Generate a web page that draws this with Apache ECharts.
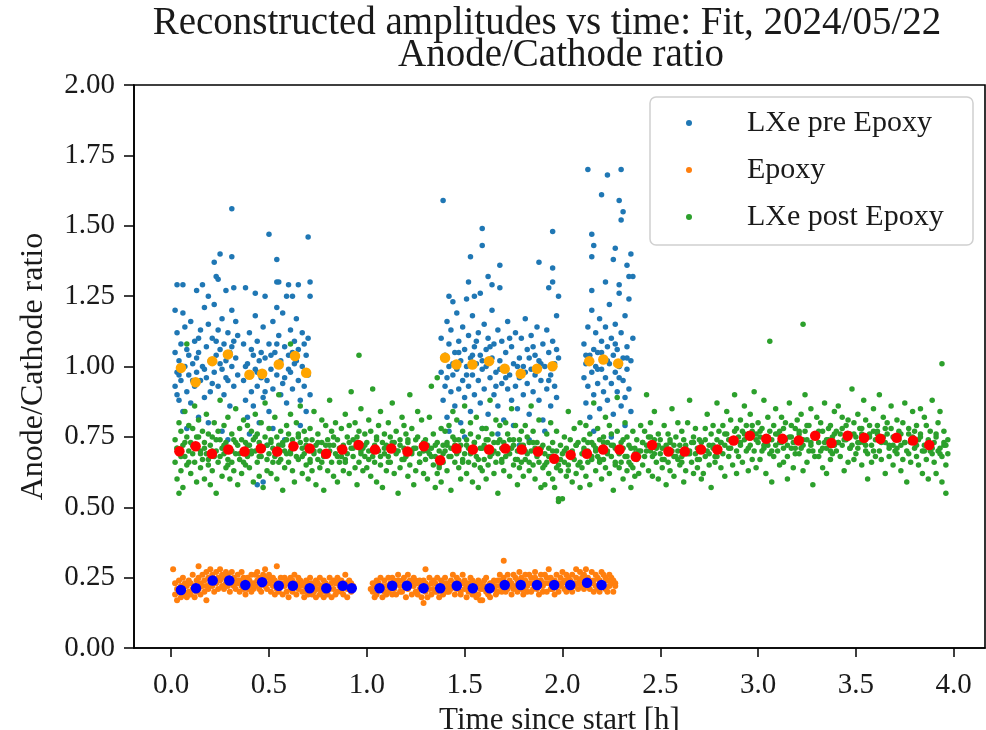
<!DOCTYPE html>
<html>
<head>
<meta charset="utf-8">
<script src="https://cdn.jsdelivr.net/npm/echarts@6/dist/echarts.min.js"></script>
<style>html,body{margin:0;padding:0;background:#fff}#chart{width:986px;height:730px}</style>
</head>
<body>
<div id="chart"></div>
<script>
// ---------------- data ----------------
const titleLine1 = 'Reconstructed amplitudes vs time: Fit, 2024/05/22';
const titleLine2 = 'Anode/Cathode ratio';
const seriesNames = ['LXe pre Epoxy', 'Epoxy', 'LXe post Epoxy'];
const xTickValues = [0, 0.5, 1.0, 1.5, 2.0, 2.5, 3.0, 3.5, 4.0];
const yTickValues = [0, 0.25, 0.5, 0.75, 1.0, 1.25, 1.5, 1.75, 2.0];

// LXe pre Epoxy: [time h, ratio]
const preEpoxy = [
[0.02,1.20],[0.03,1.29],[0.06,1.29],[0.06,1.19],[0.13,1.27],[0.16,1.29],[0.19,1.25],[0.17,1.21],[0.23,1.32],[0.24,1.31],[0.25,1.40],[0.22,1.37],[0.31,1.39],[0.31,1.56],[0.28,1.27],[0.32,1.28],[0.31,1.20],
[0.02,1.05],[0.02,0.93],[0.03,1.12],[0.03,0.98],[0.04,0.88],[0.04,1.02],[0.05,1.08],[0.05,0.95],[0.06,0.84],[0.07,1.00],[0.07,1.14],[0.08,0.91],[0.09,1.04],[0.09,0.97],[0.10,1.16],[0.10,0.87],[0.11,1.01],[0.12,0.93],[0.12,1.09],[0.13,0.98],[0.14,0.82],[0.14,1.05],[0.15,0.95],[0.15,1.13],[0.16,1.00],[0.17,0.89],[0.18,1.07],[0.18,0.96],[0.19,1.15],[0.20,1.02],[0.20,0.91],[0.21,1.10],[0.22,0.98],[0.22,1.22],[0.23,1.04],[0.24,0.93],[0.24,1.13],[0.25,1.06],[0.26,0.99],[0.26,1.17],[0.27,1.08],[0.27,0.90],[0.28,1.02],[0.29,1.12],[0.29,0.95],[0.30,1.05],[0.30,0.86],[0.31,1.00],[0.32,1.09],[0.32,0.93],[0.33,1.03],[0.33,1.16],[0.34,0.97],[0.08,0.78],[0.19,0.80],[0.26,0.77],[0.11,0.72],[0.29,0.74],
[0.04,0.97],[0.08,1.06],[0.11,0.95],[0.14,1.10],[0.17,0.99],[0.21,0.94],[0.25,1.01],[0.28,0.96],[0.31,1.07],[0.34,1.11],[0.03,0.90],[0.13,1.03],[0.23,1.09],
[0.43,1.26],[0.48,1.25],[0.54,1.30],[0.55,1.30],[0.60,1.29],[0.59,1.25],[0.62,1.25],[0.65,1.29],[0.71,1.30],[0.71,1.25],[0.50,1.47],[0.70,1.46],[0.54,1.38],[0.38,1.28],[0.43,1.18],[0.54,1.21],[0.44,0.58],[0.47,0.59],
[0.37,0.95],[0.37,1.08],[0.38,0.88],[0.39,1.01],[0.39,0.82],[0.40,0.97],[0.40,1.12],[0.41,0.91],[0.42,1.04],[0.42,0.86],[0.43,0.99],[0.44,1.09],[0.44,0.93],[0.45,0.80],[0.45,1.02],[0.46,0.96],[0.47,1.14],[0.47,0.89],[0.48,1.03],[0.49,0.95],[0.50,1.08],[0.50,0.84],[0.51,0.99],[0.52,1.16],[0.52,0.92],[0.53,1.05],[0.54,0.97],[0.55,1.11],[0.56,0.90],[0.56,1.02],[0.57,1.19],[0.58,0.96],[0.58,1.07],[0.59,0.87],[0.60,1.04],[0.61,1.13],[0.61,0.98],[0.62,0.92],[0.63,1.09],[0.63,1.01],[0.64,1.17],[0.65,0.95],[0.65,1.06],[0.66,0.88],[0.67,1.12],[0.67,1.00],[0.68,0.93],[0.69,1.04],[0.69,0.84],[0.70,0.97],[0.70,1.10],[0.71,0.90],[0.40,0.76],[0.52,0.78],[0.66,0.79],[0.58,0.74],[0.49,0.72],
[0.38,1.00],[0.41,1.06],[0.44,0.98],[0.48,0.91],[0.51,1.04],[0.54,1.08],[0.57,0.94],[0.60,0.99],[0.64,1.02],[0.68,1.08],[0.46,1.05],[0.62,1.05],
[1.39,1.59],[1.59,1.49],[1.59,1.43],[1.95,1.48],[1.53,1.39],[1.88,1.37],[1.68,1.36],[1.95,1.35],[1.52,1.30],[1.62,1.32],[1.64,1.29],[1.68,1.28],[1.58,1.26],[1.55,1.25],[1.95,1.30],[1.93,1.28],[1.98,1.25],[1.42,1.25],[1.44,1.23],[1.51,1.24],
[1.38,0.98],[1.38,1.10],[1.39,0.88],[1.40,1.04],[1.40,0.93],[1.41,1.16],[1.41,0.82],[1.42,1.00],[1.42,1.08],[1.43,0.91],[1.43,1.13],[1.44,0.97],[1.45,1.05],[1.45,0.86],[1.46,1.19],[1.46,0.99],[1.47,0.92],[1.47,1.09],[1.48,1.02],[1.48,0.80],[1.49,0.95],[1.49,1.14],[1.50,1.06],[1.50,0.89],[1.51,1.00],[1.52,0.93],[1.52,1.11],[1.53,1.03],[1.53,0.84],[1.54,0.97],[1.54,1.18],[1.55,1.07],[1.55,0.90],[1.56,1.01],[1.57,0.95],[1.57,1.12],[1.58,1.04],[1.58,0.87],[1.59,0.99],[1.60,1.15],[1.60,0.92],[1.61,1.06],[1.61,1.00],[1.62,0.83],[1.62,1.10],[1.63,0.96],[1.64,1.03],[1.64,1.20],[1.65,0.90],[1.65,1.08],[1.66,0.98],[1.67,1.13],[1.67,0.86],[1.68,1.02],[1.69,0.94],[1.69,1.09],[1.70,0.99],[1.70,0.81],[1.71,1.05],[1.72,0.92],[1.72,1.16],[1.73,0.97],[1.74,1.07],[1.74,0.88],[1.75,1.01],[1.76,0.93],[1.76,1.12],[1.77,0.85],[1.78,1.03],[1.78,0.96],[1.79,1.10],[1.80,0.90],[1.80,1.00],[1.81,1.17],[1.82,0.94],[1.82,1.06],[1.83,0.83],[1.84,0.99],[1.84,1.11],[1.85,0.91],[1.86,1.04],[1.86,0.97],[1.87,1.14],[1.88,0.88],[1.88,1.02],[1.89,0.95],[1.90,1.08],[1.90,0.81],[1.91,1.00],[1.92,0.92],[1.92,1.13],[1.93,1.05],[1.94,0.97],[1.94,0.86],[1.95,1.09],[1.96,1.01],[1.96,0.93],[1.97,1.18],[1.97,0.89],[1.98,1.03],[1.42,0.77],[1.50,0.75],[1.59,0.78],[1.67,0.76],[1.75,0.79],[1.83,0.74],[1.91,0.77],[1.78,0.72],[1.55,0.71],
[1.39,1.03],[1.44,1.01],[1.47,1.05],[1.51,0.97],[1.56,1.09],[1.59,1.02],[1.63,1.07],[1.66,0.93],[1.71,0.96],[1.73,1.10],[1.77,1.00],[1.81,0.98],[1.85,1.07],[1.89,1.01],[1.93,0.95],[1.97,1.06],[1.41,0.96],[1.54,1.04],[1.68,0.99],[1.83,1.03],
[2.13,1.70],[2.23,1.68],[2.30,1.70],[2.20,1.61],[2.29,1.59],[2.31,1.55],[2.30,1.52],[2.15,1.47],[2.16,1.43],[2.15,1.39],[2.27,1.42],[2.35,1.40],[2.15,1.27],[2.22,1.30],[2.29,1.29],[2.34,1.32],[2.36,1.32],[2.33,1.36],[2.26,1.38],[2.29,1.26],
[2.11,0.96],[2.11,1.08],[2.12,0.87],[2.12,1.01],[2.13,1.14],[2.13,0.93],[2.14,1.04],[2.14,0.82],[2.15,0.98],[2.15,1.20],[2.16,1.06],[2.16,0.90],[2.17,1.00],[2.17,1.12],[2.18,0.94],[2.18,1.05],[2.19,0.85],[2.19,1.17],[2.20,0.99],[2.20,1.09],[2.21,0.91],[2.21,1.03],[2.22,1.14],[2.22,0.96],[2.23,1.07],[2.23,0.88],[2.24,1.01],[2.24,1.22],[2.25,0.94],[2.25,1.10],[2.26,1.04],[2.26,0.83],[2.27,0.98],[2.27,1.15],[2.28,1.06],[2.28,0.91],[2.29,1.00],[2.30,1.12],[2.30,0.86],[2.31,1.03],[2.31,0.95],[2.32,1.18],[2.32,0.89],[2.33,1.07],[2.33,0.99],[2.34,0.92],[2.34,1.24],[2.35,1.02],[2.35,0.84],[2.36,1.10],[2.16,0.77],[2.25,0.75],[2.32,0.79],
[2.12,1.04],[2.18,0.99],[2.23,1.02],[2.27,1.08],[2.33,1.03],[2.20,1.05],[2.29,0.96]
];

// Epoxy: [time h, ratio]
const epoxy = [
[0.02,0.19],[0.02,0.23],[0.03,0.21],[0.03,0.17],[0.04,0.24],[0.04,0.20],[0.05,0.18],[0.05,0.22],[0.06,0.21],[0.06,0.25],[0.07,0.19],[0.07,0.23],[0.08,0.22],[0.08,0.18],[0.09,0.20],[0.09,0.24],
[0.10,0.23],[0.10,0.19],[0.11,0.21],[0.11,0.26],[0.12,0.18],[0.12,0.22],[0.13,0.24],[0.13,0.20],[0.14,0.21],[0.14,0.25],[0.15,0.19],[0.15,0.23],[0.16,0.22],[0.16,0.26],[0.17,0.24],[0.17,0.20],[0.18,0.22],[0.18,0.27],[0.19,0.25],[0.19,0.21],
[0.20,0.23],[0.20,0.28],[0.21,0.26],[0.21,0.22],[0.22,0.24],[0.22,0.20],[0.23,0.27],[0.23,0.23],[0.24,0.21],[0.24,0.25],[0.25,0.24],[0.25,0.28],[0.26,0.22],[0.26,0.26],[0.27,0.25],[0.27,0.21],[0.28,0.23],[0.28,0.27],[0.29,0.26],[0.29,0.22],
[0.30,0.24],[0.30,0.20],[0.31,0.27],[0.31,0.23],[0.32,0.22],[0.32,0.25],[0.33,0.24],[0.33,0.21],[0.34,0.23],[0.34,0.26],[0.35,0.20],[0.35,0.24],[0.36,0.22],[0.36,0.27],[0.37,0.25],[0.37,0.21],[0.38,0.23],[0.38,0.19],[0.39,0.21],[0.39,0.25],
[0.40,0.24],[0.40,0.22],[0.41,0.20],[0.41,0.26],[0.42,0.23],[0.42,0.21],[0.43,0.26],[0.43,0.22],[0.44,0.24],[0.44,0.27],[0.45,0.21],[0.45,0.25],[0.46,0.23],[0.46,0.20],[0.47,0.26],[0.47,0.24],[0.48,0.22],[0.48,0.28],[0.49,0.25],[0.49,0.21],
[0.50,0.23],[0.50,0.26],[0.51,0.20],[0.51,0.24],[0.52,0.22],[0.52,0.25],[0.53,0.24],[0.53,0.19],[0.54,0.21],[0.54,0.29],[0.55,0.23],[0.55,0.20],[0.56,0.25],[0.56,0.22],[0.57,0.19],[0.57,0.23],[0.58,0.22],[0.58,0.25],[0.59,0.20],[0.59,0.24],
[0.60,0.23],[0.60,0.18],[0.61,0.21],[0.61,0.25],[0.62,0.24],[0.62,0.20],[0.63,0.22],[0.63,0.26],[0.64,0.19],[0.64,0.23],[0.65,0.25],[0.65,0.21],[0.66,0.22],[0.66,0.24],[0.67,0.20],[0.67,0.23],[0.68,0.22],[0.68,0.18],[0.69,0.24],[0.69,0.20],
[0.70,0.19],[0.70,0.23],[0.71,0.21],[0.71,0.25],[0.72,0.23],[0.72,0.19],[0.73,0.20],[0.73,0.22],[0.74,0.24],[0.74,0.18],[0.75,0.21],[0.75,0.23],[0.76,0.19],[0.76,0.25],[0.77,0.22],[0.77,0.20],[0.78,0.24],[0.78,0.18],[0.79,0.20],[0.79,0.23],
[0.80,0.22],[0.80,0.19],[0.81,0.25],[0.81,0.21],[0.82,0.18],[0.82,0.23],[0.83,0.21],[0.83,0.24],[0.84,0.23],[0.84,0.19],[0.85,0.20],[0.85,0.25],[0.86,0.22],[0.86,0.24],[0.87,0.24],[0.87,0.20],[0.88,0.19],[0.88,0.22],[0.89,0.23],[0.89,0.26],
[0.90,0.21],[0.90,0.18],[0.91,0.24],[0.91,0.22],[0.92,0.20],[0.92,0.23],[0.93,0.22],[0.93,0.21],
[0.01,0.28],[0.18,0.17],[0.14,0.29],
[1.03,0.20],[1.03,0.23],[1.04,0.22],[1.04,0.18],[1.05,0.19],[1.05,0.24],[1.06,0.23],[1.06,0.21],[1.07,0.21],[1.07,0.25],[1.08,0.18],[1.08,0.22],[1.09,0.24],[1.09,0.20],
[1.10,0.22],[1.10,0.19],[1.11,0.20],[1.11,0.25],[1.12,0.23],[1.12,0.21],[1.13,0.25],[1.13,0.19],[1.14,0.21],[1.14,0.24],[1.15,0.19],[1.15,0.23],[1.16,0.24],[1.16,0.26],[1.17,0.22],[1.17,0.20],[1.18,0.20],[1.18,0.24],[1.19,0.25],[1.19,0.22],
[1.20,0.23],[1.20,0.18],[1.21,0.21],[1.21,0.26],[1.22,0.24],[1.22,0.22],[1.23,0.19],[1.23,0.23],[1.24,0.22],[1.24,0.25],[1.25,0.20],[1.25,0.24],[1.26,0.23],[1.26,0.19],[1.27,0.21],[1.27,0.24],[1.28,0.18],[1.28,0.22],[1.29,0.24],[1.29,0.16],
[1.30,0.20],[1.30,0.23],[1.31,0.22],[1.31,0.18],[1.32,0.25],[1.32,0.21],[1.33,0.19],[1.33,0.23],[1.34,0.21],[1.34,0.24],[1.35,0.23],[1.35,0.20],[1.36,0.20],[1.36,0.25],[1.37,0.22],[1.37,0.18],[1.38,0.24],[1.38,0.21],[1.39,0.19],[1.39,0.23],
[1.40,0.21],[1.40,0.25],[1.41,0.23],[1.41,0.20],[1.42,0.20],[1.42,0.22],[1.43,0.24],[1.43,0.21],[1.44,0.22],[1.44,0.26],[1.45,0.19],[1.45,0.23],[1.46,0.25],[1.46,0.21],[1.47,0.22],[1.47,0.24],[1.48,0.20],[1.48,0.19],[1.49,0.23],[1.49,0.26],
[1.50,0.21],[1.50,0.24],[1.51,0.18],[1.51,0.22],[1.52,0.23],[1.52,0.20],[1.53,0.21],[1.53,0.25],[1.54,0.24],[1.54,0.19],[1.55,0.20],[1.55,0.23],[1.56,0.22],[1.56,0.18],[1.57,0.19],[1.57,0.24],[1.58,0.23],[1.58,0.21],[1.59,0.21],[1.59,0.17],
[1.60,0.24],[1.60,0.22],[1.61,0.20],[1.61,0.25],[1.62,0.22],[1.62,0.19],[1.63,0.18],[1.63,0.23],[1.64,0.23],[1.64,0.21],[1.65,0.21],[1.65,0.24],[1.66,0.19],[1.66,0.22],[1.67,0.24],[1.67,0.20],[1.68,0.22],[1.68,0.26],[1.69,0.20],[1.69,0.24],
[1.70,0.25],[1.70,0.31],[1.71,0.23],[1.71,0.20],[1.72,0.21],[1.72,0.26],[1.73,0.24],[1.73,0.22],[1.74,0.19],[1.74,0.23],[1.75,0.26],[1.75,0.21],[1.76,0.22],[1.76,0.25],[1.77,0.20],[1.77,0.24],[1.78,0.23],[1.78,0.27],[1.79,0.25],[1.79,0.21],
[1.80,0.21],[1.80,0.19],[1.81,0.24],[1.81,0.26],[1.82,0.22],[1.82,0.20],[1.83,0.26],[1.83,0.23],[1.84,0.20],[1.84,0.25],[1.85,0.23],[1.85,0.21],[1.86,0.25],[1.86,0.27],[1.87,0.21],[1.87,0.24],[1.88,0.19],[1.88,0.22],[1.89,0.24],[1.89,0.26],
[1.90,0.22],[1.90,0.20],[1.91,0.26],[1.91,0.23],[1.92,0.20],[1.92,0.25],[1.93,0.23],[1.93,0.28],[1.94,0.25],[1.94,0.21],[1.95,0.21],[1.95,0.24],[1.96,0.24],[1.96,0.19],[1.97,0.22],[1.97,0.26],[1.98,0.20],[1.98,0.23],[1.99,0.25],[1.99,0.22],
[2.00,0.23],[2.00,0.27],[2.01,0.21],[2.01,0.24],[2.02,0.26],[2.02,0.20],[2.03,0.22],[2.03,0.25],[2.04,0.24],[2.04,0.21],[2.05,0.20],[2.05,0.26],[2.06,0.23],[2.06,0.22],[2.07,0.25],[2.07,0.28],[2.08,0.21],[2.08,0.23],[2.09,0.24],[2.09,0.27],
[2.10,0.22],[2.10,0.25],[2.11,0.26],[2.11,0.21],[2.12,0.23],[2.12,0.28],[2.13,0.25],[2.13,0.22],[2.14,0.21],[2.14,0.24],[2.15,0.27],[2.15,0.23],[2.16,0.24],[2.16,0.20],[2.17,0.22],[2.17,0.26],[2.18,0.25],[2.18,0.21],[2.19,0.20],[2.19,0.24],
[2.20,0.23],[2.20,0.27],[2.21,0.26],[2.21,0.22],[2.22,0.21],[2.22,0.25],[2.23,0.24],[2.23,0.20],[2.24,0.22],[2.24,0.26],[2.25,0.25],[2.25,0.23],[2.26,0.20],[2.26,0.24],[2.27,0.23],[2.27,0.22],
[1.58,0.17],[1.02,0.21],[1.30,0.28]
];

// LXe post Epoxy: [time h, ratio]
const postEpoxy = [
[0.02,0.66],[0.02,0.74],[0.03,0.60],[0.03,0.71],[0.04,0.80],[0.04,0.69],[0.05,0.63],[0.05,0.77],[0.06,0.72],[0.06,0.57],[0.07,0.68],[0.07,0.84],[0.08,0.75],[0.08,0.65],[0.09,0.70],[0.09,0.79],
[0.10,0.62],[0.10,0.73],[0.11,0.78],[0.11,0.69],[0.12,0.66],[0.12,0.86],[0.13,0.71],[0.13,0.59],[0.14,0.75],[0.14,0.81],[0.15,0.64],[0.15,0.70],[0.16,0.77],[0.16,0.67],[0.17,0.73],[0.17,0.60],[0.18,0.69],[0.18,0.83],[0.19,0.76],[0.19,0.65],
[0.20,0.72],[0.20,0.58],[0.21,0.63],[0.21,0.75],[0.22,0.80],[0.22,0.68],[0.23,0.70],[0.23,0.55],[0.24,0.66],[0.24,0.77],[0.25,0.74],[0.25,0.88],[0.26,0.61],[0.26,0.71],[0.27,0.69],[0.27,0.79],[0.28,0.73],[0.28,0.64],[0.29,0.67],[0.29,0.82],
[0.30,0.71],[0.30,0.60],[0.31,0.76],[0.31,0.66],[0.32,0.63],[0.32,0.74],[0.33,0.85],[0.33,0.69],[0.34,0.72],[0.34,0.58],[0.35,0.67],[0.35,0.78],[0.36,0.74],[0.36,0.62],[0.37,0.70],[0.37,0.81],[0.38,0.65],[0.38,0.73],[0.39,0.79],[0.39,0.68],
[0.40,0.64],[0.40,0.72],[0.41,0.77],[0.41,0.69],[0.42,0.59],[0.42,0.74],[0.43,0.70],[0.43,0.83],[0.44,0.66],[0.44,0.76],[0.45,0.73],[0.45,0.61],[0.46,0.80],[0.46,0.68],[0.47,0.71],[0.47,0.57],[0.48,0.75],[0.48,0.87],[0.49,0.63],[0.49,0.72],
[0.50,0.69],[0.50,0.78],[0.51,0.74],[0.51,0.62],[0.52,0.66],[0.52,0.71],[0.53,0.82],[0.53,0.68],[0.54,0.60],[0.54,0.75],[0.55,0.72],[0.55,0.90],[0.56,0.67],[0.56,0.77],[0.57,0.73],[0.57,0.56],[0.58,0.64],[0.58,0.70],[0.59,0.79],[0.59,0.69],
[0.60,0.76],[0.60,0.66],[0.61,0.70],[0.61,0.83],[0.62,0.63],[0.62,0.74],[0.63,0.72],[0.63,0.59],[0.64,0.80],[0.64,0.68],[0.65,0.67],[0.65,0.75],[0.66,0.73],[0.66,0.86],[0.67,0.62],[0.67,0.71],[0.68,0.77],[0.68,0.69],[0.69,0.65],[0.69,0.74],
[0.70,0.71],[0.70,0.60],[0.71,0.66],[0.71,0.78],[0.72,0.74],[0.72,0.63],[0.73,0.69],[0.73,0.84],[0.74,0.58],[0.74,0.72],[0.75,0.76],[0.75,0.67],[0.76,0.64],[0.76,0.70],[0.77,0.81],[0.77,0.73],[0.78,0.68],[0.78,0.56],[0.79,0.72],[0.79,0.79],
[0.80,0.63],[0.80,0.74],[0.81,0.70],[0.81,0.88],[0.82,0.77],[0.82,0.66],[0.83,0.61],[0.83,0.72],[0.84,0.69],[0.84,0.80],[0.85,0.74],[0.85,0.59],[0.86,0.66],[0.86,0.71],[0.87,0.78],[0.87,0.68],[0.88,0.72],[0.88,0.63],[0.89,0.67],[0.89,0.83],
[0.90,0.75],[0.90,0.69],[0.91,0.62],[0.91,0.79],[0.92,0.71],[0.92,0.91],[0.93,0.68],[0.93,0.74],[0.94,0.80],[0.94,0.64],[0.95,0.73],[0.95,0.58],[0.96,0.66],[0.96,0.77],[0.97,0.85],[0.97,0.70],[0.98,0.71],[0.98,0.63],[0.99,0.76],[0.99,0.68],
[1.00,0.64],[1.00,0.73],[1.01,0.70],[1.01,0.81],[1.02,0.77],[1.02,0.61],[1.03,0.68],[1.03,0.92],[1.04,0.72],[1.04,0.66],[1.05,0.59],[1.05,0.75],[1.06,0.79],[1.06,0.70],[1.07,0.65],[1.07,0.84],[1.08,0.73],[1.08,0.57],[1.09,0.69],[1.09,0.76],
[1.10,0.72],[1.10,0.63],[1.11,0.80],[1.11,0.68],[1.12,0.66],[1.12,0.75],[1.13,0.71],[1.13,0.87],[1.14,0.62],[1.14,0.73],[1.15,0.77],[1.15,0.69],[1.16,0.70],[1.16,0.55],[1.17,0.74],[1.17,0.64],[1.18,0.67],[1.18,0.82],[1.19,0.79],[1.19,0.71],
[1.20,0.68],[1.20,0.76],[1.21,0.73],[1.21,0.61],[1.22,0.65],[1.22,0.90],[1.23,0.78],[1.23,0.70],[1.24,0.71],[1.24,0.58],[1.25,0.63],[1.25,0.74],[1.26,0.75],[1.26,0.84],[1.27,0.69],[1.27,0.66],[1.28,0.81],[1.28,0.72],[1.29,0.70],[1.29,0.62],
[1.30,0.74],[1.30,0.67],[1.31,0.60],[1.31,0.72],[1.32,0.82],[1.32,0.69],[1.33,0.71],[1.33,0.93],[1.34,0.65],[1.34,0.76],[1.35,0.68],[1.35,0.57],[1.36,0.73],[1.36,0.62],[1.37,0.64],[1.37,0.70],[1.38,0.78],[1.38,0.59],[1.39,0.66],[1.39,0.72],
[1.40,0.70],[1.40,0.77],[1.41,0.63],[1.41,0.73],[1.42,0.79],[1.42,0.68],[1.43,0.71],[1.43,0.56],[1.44,0.75],[1.44,0.84],[1.45,0.66],[1.45,0.72],[1.46,0.81],[1.46,0.69],[1.47,0.64],[1.47,0.74],[1.48,0.72],[1.48,0.60],[1.49,0.77],[1.49,0.67],
[1.50,0.69],[1.50,0.86],[1.51,0.74],[1.51,0.62],[1.52,0.66],[1.52,0.71],[1.53,0.80],[1.53,0.76],[1.54,0.59],[1.54,0.70],[1.55,0.73],[1.55,0.65],[1.56,0.68],[1.56,0.82],[1.57,0.75],[1.57,0.57],[1.58,0.71],[1.58,0.64],[1.59,0.63],[1.59,0.78],
[1.60,0.72],[1.60,0.67],[1.61,0.78],[1.61,0.60],[1.62,0.65],[1.62,0.74],[1.63,0.70],[1.63,0.88],[1.64,0.76],[1.64,0.69],[1.65,0.62],[1.65,0.73],[1.66,0.81],[1.66,0.66],[1.67,0.69],[1.67,0.55],[1.68,0.74],[1.68,0.79],[1.69,0.67],[1.69,0.71],
[1.70,0.73],[1.70,0.63],[1.71,0.68],[1.71,0.80],[1.72,0.76],[1.72,0.70],[1.73,0.61],[1.73,0.74],[1.74,0.71],[1.74,0.85],[1.75,0.65],[1.75,0.72],[1.76,0.79],[1.76,0.67],[1.77,0.70],[1.77,0.58],[1.78,0.74],[1.78,0.64],[1.79,0.66],[1.79,0.77],
[1.80,0.72],[1.80,0.61],[1.81,0.67],[1.81,0.79],[1.82,0.75],[1.82,0.69],[1.83,0.63],[1.83,0.73],[1.84,0.70],[1.84,0.86],[1.85,0.77],[1.85,0.65],[1.86,0.60],[1.86,0.71],[1.87,0.73],[1.87,0.68],[1.88,0.66],[1.88,0.81],[1.89,0.71],[1.89,0.57],
[1.90,0.64],[1.90,0.72],[1.91,0.69],[1.91,0.58],[1.92,0.76],[1.92,0.66],[1.93,0.62],[1.93,0.71],[1.94,0.68],[1.94,0.80],[1.95,0.73],[1.95,0.60],[1.96,0.57],[1.96,0.67],[1.97,0.70],[1.97,0.77],[1.98,0.65],[1.98,0.53],[1.99,0.72],[1.99,0.63],
[2.00,0.53],[2.00,0.69],[2.01,0.66],[2.01,0.75],[2.02,0.71],[2.02,0.61],[2.03,0.63],[2.03,0.84],[2.04,0.74],[2.04,0.68],[2.05,0.59],[2.05,0.70],[2.06,0.67],[2.06,0.78],[2.07,0.72],[2.07,0.62],[2.08,0.65],[2.08,0.73],[2.09,0.80],[2.09,0.57],
[2.10,0.69],[2.10,0.64],[2.11,0.74],[2.11,0.71],[2.12,0.61],[2.12,0.79],[2.13,0.70],[2.13,0.66],[2.14,0.76],[2.14,0.58],[2.15,0.67],[2.15,0.73],[2.16,0.72],[2.16,0.87],[2.17,0.63],[2.17,0.70],[2.18,0.78],[2.18,0.68],[2.19,0.66],[2.19,0.74],
[2.20,0.71],[2.20,0.60],[2.21,0.75],[2.21,0.67],[2.22,0.64],[2.22,0.82],[2.23,0.70],[2.23,0.73],[2.24,0.79],[2.24,0.62],[2.25,0.68],[2.25,0.76],[2.26,0.72],[2.26,0.56],[2.27,0.65],[2.27,0.71],[2.28,0.77],[2.28,0.89],[2.29,0.69],[2.29,0.64],
[2.30,0.73],[2.30,0.66],[2.31,0.60],[2.31,0.71],[2.32,0.68],[2.32,0.80],[2.33,0.75],[2.33,0.63],[2.34,0.66],[2.34,0.72],[2.35,0.71],[2.35,0.57],[2.36,0.64],[2.36,0.77],[2.37,0.69],[2.37,0.61],[2.38,0.74],[2.38,0.67],[2.39,0.62],[2.39,0.70],
[2.40,0.70],[2.40,0.79],[2.41,0.65],[2.41,0.73],[2.42,0.77],[2.42,0.68],[2.43,0.72],[2.43,0.90],[2.44,0.63],[2.44,0.75],[2.45,0.80],[2.45,0.70],[2.46,0.68],[2.46,0.61],[2.47,0.74],[2.47,0.84],[2.48,0.71],[2.48,0.66],[2.49,0.76],[2.49,0.60],
[2.50,0.69],[2.50,0.74],[2.51,0.64],[2.51,0.71],[2.52,0.79],[2.52,0.67],[2.53,0.72],[2.53,0.58],[2.54,0.66],[2.54,0.76],[2.55,0.73],[2.55,0.63],[2.56,0.70],[2.56,0.85],[2.57,0.61],[2.57,0.72],[2.58,0.75],[2.58,0.68],[2.59,0.67],[2.59,0.80],
[2.60,0.72],[2.60,0.65],[2.61,0.68],[2.61,0.77],[2.62,0.74],[2.62,0.59],[2.63,0.63],[2.63,0.71],[2.64,0.80],[2.64,0.69],[2.65,0.70],[2.65,0.88],[2.66,0.66],[2.66,0.73],[2.67,0.75],[2.67,0.62],[2.68,0.69],[2.68,0.78],[2.69,0.71],[2.69,0.64],
[2.70,0.67],[2.70,0.74],[2.71,0.73],[2.71,0.60],[2.72,0.62],[2.72,0.70],[2.73,0.78],[2.73,0.68],[2.74,0.70],[2.74,0.83],[2.75,0.65],[2.75,0.72],[2.76,0.76],[2.76,0.57],[2.77,0.71],[2.77,0.79],[2.78,0.68],[2.78,0.66],[2.79,0.74],[2.79,0.87],
[2.80,0.70],[2.80,0.77],[2.81,0.64],[2.81,0.73],[2.82,0.79],[2.82,0.69],[2.83,0.72],[2.83,0.61],[2.84,0.76],[2.84,0.84],[2.85,0.68],[2.85,0.74],[2.86,0.81],[2.86,0.71],[2.87,0.73],[2.87,0.65],[2.88,0.77],[2.88,0.90],[2.89,0.70],[2.89,0.62],
[2.90,0.75],[2.90,0.68],[2.91,0.81],[2.91,0.72],[2.92,0.66],[2.92,0.77],[2.93,0.74],[2.93,0.86],[2.94,0.79],[2.94,0.70],[2.95,0.63],[2.95,0.76],[2.96,0.72],[2.96,0.83],[2.97,0.77],[2.97,0.67],[2.98,0.70],[2.98,0.91],[2.99,0.76],[2.99,0.64],
[3.00,0.73],[3.00,0.80],[3.01,0.67],[3.01,0.75],[3.02,0.78],[3.02,0.70],[3.03,0.71],[3.03,0.88],[3.04,0.75],[3.04,0.62],[3.05,0.82],[3.05,0.72],[3.06,0.69],[3.06,0.77],[3.07,0.74],[3.07,0.59],[3.08,0.79],[3.08,0.68],[3.09,0.72],[3.09,0.85],
[3.10,0.70],[3.10,0.76],[3.11,0.77],[3.11,0.65],[3.12,0.73],[3.12,0.82],[3.13,0.66],[3.13,0.71],[3.14,0.80],[3.14,0.74],[3.15,0.68],[3.15,0.60],[3.16,0.75],[3.16,0.87],[3.17,0.71],[3.17,0.79],[3.18,0.64],[3.18,0.73],[3.19,0.78],[3.19,0.69],
[3.20,0.74],[3.20,0.81],[3.21,0.69],[3.21,0.76],[3.22,0.83],[3.22,0.71],[3.23,0.72],[3.23,0.63],[3.24,0.77],[3.24,0.90],[3.25,0.66],[3.25,0.74],[3.26,0.79],[3.26,0.70],[3.27,0.73],[3.27,0.85],[3.28,0.70],[3.28,0.58],[3.29,0.76],[3.29,0.68],
[3.30,0.75],[3.30,0.82],[3.31,0.68],[3.31,0.73],[3.32,0.80],[3.32,0.70],[3.33,0.64],[3.33,0.77],[3.34,0.73],[3.34,0.87],[3.35,0.71],[3.35,0.62],[3.36,0.78],[3.36,0.74],[3.37,0.67],[3.37,0.79],[3.38,0.75],[3.38,0.69],[3.39,0.72],[3.39,0.84],
[3.40,0.77],[3.40,0.70],[3.41,0.73],[3.41,0.86],[3.42,0.68],[3.42,0.76],[3.43,0.82],[3.43,0.72],[3.44,0.74],[3.44,0.63],[3.45,0.79],[3.45,0.75],[3.46,0.66],[3.46,0.81],[3.47,0.76],[3.47,0.71],[3.48,0.72],[3.48,0.92],[3.49,0.80],[3.49,0.67],
[3.50,0.75],[3.50,0.69],[3.51,0.71],[3.51,0.83],[3.52,0.78],[3.52,0.73],[3.53,0.65],[3.53,0.76],[3.54,0.73],[3.54,0.88],[3.55,0.81],[3.55,0.70],[3.56,0.69],[3.56,0.60],[3.57,0.76],[3.57,0.79],[3.58,0.72],[3.58,0.66],[3.59,0.77],[3.59,0.85],
[3.60,0.74],[3.60,0.68],[3.61,0.79],[3.61,0.76],[3.62,0.70],[3.62,0.90],[3.63,0.67],[3.63,0.73],[3.64,0.82],[3.64,0.75],[3.65,0.73],[3.65,0.62],[3.66,0.76],[3.66,0.80],[3.67,0.68],[3.67,0.71],[3.68,0.78],[3.68,0.86],[3.69,0.72],[3.69,0.65],
[3.70,0.75],[3.70,0.70],[3.71,0.69],[3.71,0.81],[3.72,0.77],[3.72,0.74],[3.73,0.63],[3.73,0.72],[3.74,0.80],[3.74,0.67],[3.75,0.73],[3.75,0.87],[3.76,0.70],[3.76,0.59],[3.77,0.78],[3.77,0.76],[3.78,0.66],[3.78,0.73],[3.79,0.74],[3.79,0.84],
[3.80,0.71],[3.80,0.77],[3.81,0.79],[3.81,0.68],[3.82,0.65],[3.82,0.74],[3.83,0.75],[3.83,0.85],[3.84,0.70],[3.84,0.62],[3.85,0.82],[3.85,0.72],[3.86,0.67],[3.86,0.79],[3.87,0.74],[3.87,0.60],[3.88,0.77],[3.88,0.70],[3.89,0.69],[3.89,0.88],
[3.90,0.73],[3.90,0.66],[3.91,0.62],[3.91,0.76],[3.92,0.80],[3.92,0.70],[3.93,0.71],[3.93,0.84],[3.94,0.68],[3.94,0.59],[3.95,0.77],[3.95,0.73],[3.96,0.65],[3.96,0.72],[3.97,0.74],[3.97,0.69],
[0.08,1.08],[0.61,1.08],[0.96,1.04],[1.36,0.96],[3.06,1.09],[3.23,1.15],[3.94,1.01],[3.96,0.55],[0.04,0.55],[1.98,0.52],
[0.03,0.71],[0.05,0.68],[0.07,0.73],[0.09,0.66],[0.11,0.72],[0.13,0.75],[0.15,0.69],[0.17,0.71],[0.19,0.67],[0.21,0.70],[0.23,0.74],[0.25,0.68],[0.27,0.72],[0.29,0.65],[0.31,0.70],[0.33,0.73],[0.35,0.69],[0.37,0.66],[0.39,0.72],
[0.41,0.70],[0.43,0.75],[0.45,0.68],[0.47,0.71],[0.49,0.67],[0.51,0.73],[0.53,0.70],[0.55,0.66],[0.57,0.72],[0.59,0.74],[0.61,0.69],[0.63,0.71],[0.65,0.76],[0.67,0.68],[0.69,0.72],[0.71,0.67],[0.73,0.70],[0.75,0.73],[0.77,0.66],[0.79,0.69],
[0.81,0.72],[0.83,0.75],[0.85,0.68],[0.87,0.70],[0.89,0.66],[0.91,0.73],[0.93,0.71],[0.95,0.75],[0.97,0.69],[0.99,0.72],[1.01,0.67],[1.03,0.70],[1.05,0.74],[1.07,0.68],[1.09,0.71],[1.11,0.66],[1.13,0.73],[1.15,0.70],[1.17,0.72],[1.19,0.67],
[1.21,0.74],[1.23,0.69],[1.25,0.71],[1.27,0.66],[1.29,0.73],[1.31,0.70],[1.33,0.68],[1.35,0.72],[1.37,0.65],[1.39,0.69],[1.41,0.72],[1.43,0.68],[1.45,0.74],[1.47,0.70],[1.49,0.66],[1.51,0.72],[1.53,0.69],[1.55,0.73],[1.57,0.67],[1.59,0.71],
[1.61,0.74],[1.63,0.68],[1.65,0.70],[1.67,0.73],[1.69,0.66],[1.71,0.71],[1.73,0.69],[1.75,0.74],[1.77,0.67],[1.79,0.72],[1.81,0.70],[1.83,0.66],[1.85,0.73],[1.87,0.69],[1.89,0.71],[1.91,0.65],[1.93,0.68],[1.95,0.70],[1.97,0.64],[1.99,0.67],
[2.01,0.70],[2.03,0.65],[2.05,0.69],[2.07,0.72],[2.09,0.66],[2.11,0.70],[2.13,0.73],[2.15,0.68],[2.17,0.71],[2.19,0.67],[2.21,0.73],[2.23,0.69],[2.25,0.72],[2.27,0.66],[2.29,0.70],[2.31,0.74],[2.33,0.68],[2.35,0.65],[2.37,0.71],[2.39,0.68],
[2.41,0.73],[2.43,0.70],[2.45,0.75],[2.47,0.69],[2.49,0.72],[2.51,0.67],[2.53,0.71],[2.55,0.74],[2.57,0.68],[2.59,0.70],[2.61,0.66],[2.63,0.72],[2.65,0.69],[2.67,0.73],[2.69,0.67],[2.71,0.71],[2.73,0.74],[2.75,0.69],[2.77,0.72],[2.79,0.68],
[2.81,0.73],[2.83,0.76],[2.85,0.71],[2.87,0.74],[2.89,0.78],[2.91,0.73],[2.93,0.76],[2.95,0.71],[2.97,0.79],[2.99,0.74],[3.01,0.77],[3.03,0.72],[3.05,0.75],[3.07,0.70],[3.09,0.76],[3.11,0.73],[3.13,0.78],[3.15,0.72],[3.17,0.75],[3.19,0.71],
[3.21,0.77],[3.23,0.74],[3.25,0.79],[3.27,0.72],[3.29,0.75],[3.31,0.77],[3.33,0.71],[3.35,0.74],[3.37,0.70],[3.39,0.76],[3.41,0.73],[3.43,0.78],[3.45,0.74],[3.47,0.71],[3.49,0.76],[3.51,0.73],[3.53,0.78],[3.55,0.72],[3.57,0.75],[3.59,0.70],
[3.61,0.77],[3.63,0.74],[3.65,0.78],[3.67,0.72],[3.69,0.75],[3.71,0.71],[3.73,0.76],[3.75,0.73],[3.77,0.69],[3.79,0.75],[3.81,0.72],[3.83,0.76],[3.85,0.70],[3.87,0.73],[3.89,0.71],[3.91,0.75],[3.93,0.69],[3.95,0.72]
];

// binned means drawn as large markers
const preEpoxyMean = [
[0.05,0.995],[0.125,0.944],[0.21,1.019],[0.29,1.043],[0.40,0.971],[0.465,0.974],[0.55,1.007],[0.633,1.037],[0.69,0.978],
[1.40,1.031],[1.458,1.007],[1.54,1.007],[1.625,1.019],[1.705,0.992],[1.787,0.974],[1.87,0.992],[1.949,1.001],
[2.137,1.019],[2.209,1.025],[2.285,1.011]
];
const postEpoxyMean = [
[0.042,0.699],[0.125,0.717],[0.208,0.690],[0.292,0.705],[0.375,0.698],[0.458,0.709],[0.542,0.698],[0.625,0.717],[0.708,0.709],[0.792,0.690],
[0.875,0.705],[0.958,0.721],[1.042,0.705],[1.125,0.709],[1.208,0.698],[1.292,0.717],[1.375,0.667],[1.458,0.709],[1.542,0.705],[1.625,0.705],
[1.708,0.709],[1.792,0.705],[1.875,0.698],[1.958,0.672],[2.042,0.686],[2.125,0.690],[2.208,0.705],[2.292,0.705],[2.375,0.679],[2.458,0.721],
[2.542,0.698],[2.625,0.698],[2.708,0.705],[2.792,0.705],[2.875,0.737],[2.958,0.754],[3.042,0.743],[3.125,0.743],[3.208,0.737],[3.292,0.754],
[3.375,0.728],[3.458,0.754],[3.542,0.747],[3.625,0.743],[3.708,0.747],[3.792,0.737],[3.875,0.721]
];
const epoxyMean = [
[0.05,0.206],[0.127,0.212],[0.212,0.240],[0.297,0.240],[0.379,0.224],[0.465,0.234],[0.55,0.221],[0.622,0.221],[0.708,0.212],[0.793,0.212],[0.877,0.221],[0.923,0.212],
[1.065,0.212],[1.13,0.221],[1.205,0.221],[1.29,0.212],[1.375,0.212],[1.46,0.221],[1.542,0.212],[1.628,0.212],[1.705,0.224],[1.787,0.224],[1.87,0.224],[1.958,0.224],
[2.04,0.224],[2.126,0.232],[2.2,0.224]
];

// ---------------- chart ----------------
const FONT = "'Liberation Serif', 'DejaVu Serif', serif";
const INK = '#1a1a1a';
function textWidth(t, size) {
  const c = document.createElement('canvas').getContext('2d');
  c.font = size + 'px ' + FONT;
  return c.measureText(t).width;
}
const T1 = 39, T2 = 39;

const chart = echarts.init(document.getElementById('chart'), null, {renderer: 'canvas'});
const option = {
  animation: false,
  backgroundColor: '#ffffff',
  title: [
    {text: titleLine1, left: 547 - textWidth(titleLine1, T1) / 2, top: 5, padding: 0,
     textStyle: {fontFamily: FONT, fontSize: T1, fontWeight: 'normal', color: INK, lineHeight: 38}},
    {text: titleLine2, left: 561 - textWidth(titleLine2, T2) / 2, top: 37, padding: 0,
     textStyle: {fontFamily: FONT, fontSize: T2, fontWeight: 'normal', color: INK, lineHeight: 38}}
  ],
  grid: {left: 134, right: 1, top: 85, bottom: 82, containLabel: false, outerBoundsMode: 'none',
         show: true, borderColor: '#000', borderWidth: 1.6, backgroundColor: 'transparent'},
  graphic: [{
    type: 'rect', z: 3, silent: true,
    shape: {x: 650, y: 97, width: 323, height: 148, r: 6},
    style: {fill: 'rgba(255,255,255,0.85)', stroke: '#d0d0d0', lineWidth: 1.5}
  }],
  legend: {
    z: 6, orient: 'vertical', left: 686, top: 108, padding: 0,
    itemWidth: 6, itemHeight: 6, itemGap: 17, selectedMode: false,
    data: seriesNames.map(n => ({name: n, icon: 'circle'})),
    textStyle: {fontFamily: FONT, fontSize: 30, color: INK, lineHeight: 30, padding: [0, 0, 0, 50]}
  },
  xAxis: {
    type: 'value', min: -0.19, max: 4.16,
    name: 'Time since start [h]', nameLocation: 'middle', nameGap: 52,
    nameTextStyle: {fontFamily: FONT, fontSize: 31, color: INK},
    axisLine: {show: true, onZero: false, lineStyle: {color: '#000', width: 1.6}},
    axisTick: {show: true, length: 9, customValues: xTickValues, lineStyle: {color: '#000', width: 1.5}},
    axisLabel: {customValues: xTickValues, margin: 23, fontFamily: FONT, fontSize: 29, color: INK,
                formatter: v => Number(v).toFixed(1)},
    splitLine: {show: false}
  },
  yAxis: {
    type: 'value', min: 0, max: 2,
    name: 'Anode/Cathode ratio', nameLocation: 'middle', nameGap: 84, nameRotate: 90,
    nameTextStyle: {fontFamily: FONT, fontSize: 32, color: INK},
    axisLine: {show: true, onZero: false, lineStyle: {color: '#000', width: 1.6}},
    axisTick: {show: true, length: 10, customValues: yTickValues, lineStyle: {color: '#000', width: 1.5}},
    axisLabel: {customValues: yTickValues, margin: 19, fontFamily: FONT, fontSize: 29, color: INK,
                formatter: v => Number(v).toFixed(2)},
    splitLine: {show: false}
  },
  series: [
    {name: seriesNames[0], type: 'scatter', data: preEpoxy, symbolSize: 5.5, z: 2, silent: true,
     itemStyle: {color: '#1f77b4', opacity: 1}},
    {name: seriesNames[1], type: 'scatter', data: epoxy, symbolSize: 6, z: 2, silent: true,
     itemStyle: {color: '#ff7f0e', opacity: 1}},
    {name: seriesNames[2], type: 'scatter', data: postEpoxy, symbolSize: 5.5, z: 2, silent: true,
     itemStyle: {color: '#2ca02c', opacity: 1}},
    {name: 'pre mean', type: 'scatter', data: preEpoxyMean, symbolSize: 10.5, z: 3, silent: true,
     itemStyle: {color: '#ffa500', opacity: 1}},
    {name: 'post mean', type: 'scatter', data: postEpoxyMean, symbolSize: 10.5, z: 3, silent: true,
     itemStyle: {color: '#ff0000', opacity: 1}},
    {name: 'epoxy mean', type: 'scatter', data: epoxyMean, symbolSize: 10.5, z: 3, silent: true,
     itemStyle: {color: '#0000ff', opacity: 1}}
  ]
};
chart.setOption(option);
</script>
</body>
</html>
